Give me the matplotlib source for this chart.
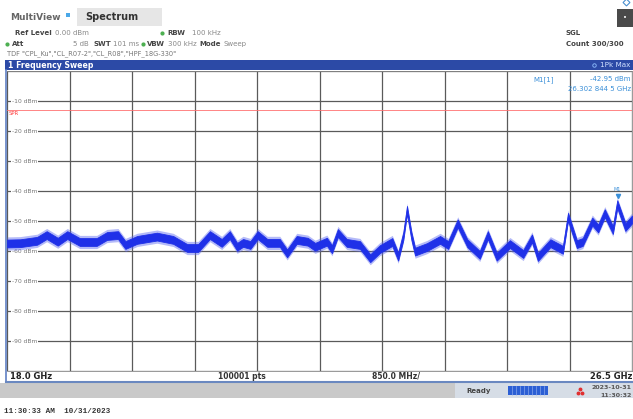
import numpy as np
import matplotlib
matplotlib.use("Agg")
import matplotlib.pyplot as plt
from matplotlib.patches import Rectangle

# sweep settings shown on screen
F_START, F_STOP = 18.0, 26.5          # GHz
REF_LEVEL, BOTTOM_LEVEL = 0, -100     # dBm
SPR_LEVEL = -13                       # red limit line
MARKER_F, MARKER_DB = 26.3028445, -42.95

# trace centre (GHz, dBm)
trace_f = [18.00, 18.18, 18.41, 18.54, 18.69, 18.82, 18.99, 19.22, 19.36, 19.51,
           19.61, 19.77, 20.04, 20.26, 20.45, 20.60, 20.76, 20.92, 21.03, 21.13,
           21.21, 21.31, 21.41, 21.54, 21.71, 21.81, 21.94, 22.09, 22.19, 22.35,
           22.42, 22.50, 22.62, 22.80, 22.94, 23.07, 23.24, 23.32, 23.39, 23.44,
           23.50, 23.55, 23.71, 23.89, 24.00, 24.13, 24.26, 24.43, 24.54, 24.66,
           24.84, 25.02, 25.14, 25.22, 25.39, 25.56, 25.63, 25.75, 25.83, 25.96,
           26.04, 26.13, 26.24, 26.30, 26.41, 26.50]
trace_db = [-57.5, -57.4, -56.6, -54.7, -56.9, -54.7, -57.0, -57.0, -55.0, -54.7,
            -58.0, -56.3, -55.2, -56.3, -59.0, -59.0, -54.7, -57.3, -54.7, -58.6,
            -57.3, -58.0, -54.7, -57.3, -57.3, -60.8, -56.3, -56.9, -58.6, -56.9,
            -59.4, -54.0, -57.3, -58.0, -62.4, -59.4, -57.0, -61.9, -55.0, -46.3,
            -55.0, -60.2, -58.7, -56.3, -58.0, -50.8, -57.4, -61.3, -54.7, -61.9,
            -57.7, -61.0, -55.8, -62.0, -57.4, -59.6, -48.6, -57.7, -57.0, -50.2,
            -52.5, -47.4, -53.0, -44.4, -52.0, -49.5]
NOISE_DB = 1.3   # half width of the noisy band

W, H = 633, 419
fig = plt.figure(figsize=(W / 100, H / 100), dpi=100)
fig.patch.set_facecolor("white")

# --- background / UI layer in pixel coordinates ---
bg = fig.add_axes([0, 0, 1, 1])
bg.set_xlim(0, W)
bg.set_ylim(H, 0)
bg.axis("off")

UI = "DejaVu Sans"
gray = "#555555"

# tabs
bg.add_patch(Rectangle((77, 8), 85, 18, fc="#e6e6e6", ec="none"))
bg.text(10, 17, "MultiView", fontsize=6.5, weight="bold", color="#666666", va="center", family=UI)
bg.add_patch(Rectangle((66, 13), 4, 4, fc="#4aa8e8", ec="none"))
bg.text(85, 17, "Spectrum", fontsize=7, weight="bold", color="#333333", va="center", family=UI)
bg.add_patch(Rectangle((617, 9), 16, 18, fc="#4a4a4a", ec="none"))
bg.text(625, 18, "•", fontsize=5, color="white", ha="center", va="center")
bg.plot([626], [2], marker="D", ms=3.5, mfc="none", mec="#4a90d0", mew=0.8)

# settings lines
def t(x, y, s, bold=False, c=gray, fs=5.0, ha="left"):
    bg.text(x, y, s, fontsize=fs, weight="bold" if bold else "normal",
            color=c, va="center", ha=ha, family=UI)

t(15, 33, "Ref Level", True, "#444444")
t(55, 33, "0.00 dBm", c="#888888")
bg.plot([162], [33], marker="o", ms=2, color="#4caf50")
t(167, 33, "RBW", True, "#444444")
t(192, 33, "100 kHz", c="#888888")
t(566, 33, "SGL", True, "#444444")

bg.plot([7], [44], marker="o", ms=2, color="#4caf50")
t(12, 44, "Att", True, "#444444")
t(73, 44, "5 dB", c="#888888")
t(94, 44, "SWT", True, "#444444")
t(113, 44, "101 ms", c="#888888")
bg.plot([143], [44], marker="o", ms=2, color="#4caf50")
t(147, 44, "VBW", True, "#444444")
t(168, 44, "300 kHz", c="#888888")
t(199, 44, "Mode", True, "#444444")
t(223, 44, "Sweep", c="#888888")
t(566, 44, "Count 300/300", True, "#444444")
t(7, 54, 'TDF "CPL_Ku","CL_R07-2","CL_R08","HPF_18G-330"', c="#777777", fs=4.8)

# title bar
bg.add_patch(Rectangle((5, 60), W - 5, 10, fc="#2c4aa6", ec="none"))
t(8, 65, "1 Frequency Sweep", True, "white", fs=5.6)
bg.plot([594], [65], marker="o", ms=2.5, mfc="none", mec="#8fc0ff", mew=0.6)
t(630, 65, "1Pk Max", c="#cfe0ff", fs=5.2, ha="right")

# bottom frequency strip + status bar
bg.plot([6, 6], [70, 382], color="#5f7fc4", lw=1.2)
bg.plot([6, W], [382, 382], color="#6a88c0", lw=1.5)
t(10, 376, f"{F_START:.1f} GHz", True, "#222222", fs=6)
t(218, 376, "100001 pts", True, "#333333", fs=5.5)
t(372, 376, f"{(F_STOP - F_START) / 10 * 1000:.1f} MHz/", True, "#333333", fs=5.5)
t(632, 376, f"{F_STOP:.1f} GHz", True, "#222222", fs=6, ha="right")

bg.add_patch(Rectangle((0, 383), 455, 15, fc="#c9c9c9", ec="none"))
bg.add_patch(Rectangle((455, 383), W - 455, 15, fc="#d6dde6", ec="none"))
t(466, 391, "Ready", True, "#444444", fs=5)
bg.add_patch(Rectangle((508, 386), 40, 9, fc="#2c5fd4", ec="none"))
for xs in range(512, 548, 4):
    bg.plot([xs, xs], [386, 395], color="#9fb8f0", lw=0.4)
bg.plot([578, 582, 580], [393, 393, 389], "o", ms=1.8, color="#e03030")
t(632, 387, "2023-10-31", True, "#555555", fs=4.5, ha="right")
t(632, 395, "11:30:32", True, "#555555", fs=4.5, ha="right")

bg.text(4, 411, "11:30:33 AM  10/31/2023", fontsize=5.5, weight="bold",
        family="Liberation Mono", color="#333333", va="center")

# --- diagram ---
x0, x1, y_top, y_bot = 7, 632, 71, 371
ax = fig.add_axes([x0 / W, 1 - y_bot / H, (x1 - x0) / W, (y_bot - y_top) / H])
ax.set_xlim(F_START, F_STOP)
ax.set_ylim(BOTTOM_LEVEL, REF_LEVEL)
ax.set_xticks(np.linspace(F_START, F_STOP, 11))
ax.set_yticks(np.arange(BOTTOM_LEVEL, REF_LEVEL + 1, 10))
ax.tick_params(length=0, labelleft=False, labelbottom=False)
ax.grid(True, color="#5a5a5a", lw=0.9)
ax.set_axisbelow(True)
for s in ax.spines.values():
    s.set_color("#888888")
    s.set_linewidth(0.6)
ax.spines["left"].set_visible(False)

for lvl in range(-10, BOTTOM_LEVEL, -10):
    ax.text(0.008, lvl, f"{lvl} dBm", transform=ax.get_yaxis_transform(),
            fontsize=4.3, color="#777777", va="center", family=UI, zorder=2,
            bbox=dict(fc="white", ec="none", pad=0.6))

ax.axhline(SPR_LEVEL, color="#ff7070", lw=0.6, zorder=2)
ax.text(0.002, SPR_LEVEL - 0.4, "SPR", transform=ax.get_yaxis_transform(),
        fontsize=3.8, color="#ff4040", va="top", family=UI, zorder=2)

f = np.array(trace_f)
d = np.array(trace_db)
# soft halo for the noise fringe, then the dense core
ax.fill_between(f, d - NOISE_DB - 0.9, d + NOISE_DB + 0.9, color="#5a66f0",
                alpha=0.45, lw=0, zorder=3)
ax.fill_between(f, d - NOISE_DB, d + NOISE_DB, color="#1f30e8", lw=0.6,
                edgecolor="#1f30e8", zorder=3)

ax.plot([MARKER_F], [MARKER_DB + 1.2], marker="v", ms=3, color="#3a8fd8", zorder=4)
ax.text(MARKER_F, MARKER_DB + 2.6, "M1", fontsize=3.5, color="#3a8fd8",
        ha="center", va="bottom", family=UI, zorder=4)

blue = "#3a8fd8"
ax.text(0.842, 0.982, "M1[1]", transform=ax.transAxes, fontsize=5, color=blue,
        va="top", family=UI, zorder=5)
ax.text(0.998, 0.982, f"{MARKER_DB:.2f} dBm", transform=ax.transAxes, fontsize=5,
        color=blue, va="top", ha="right", family=UI, zorder=5)
ax.text(0.998, 0.95, "26.302 844 5 GHz", transform=ax.transAxes, fontsize=5,
        color=blue, va="top", ha="right", family=UI, zorder=5)

fig.savefig("out.png", dpi=100)
